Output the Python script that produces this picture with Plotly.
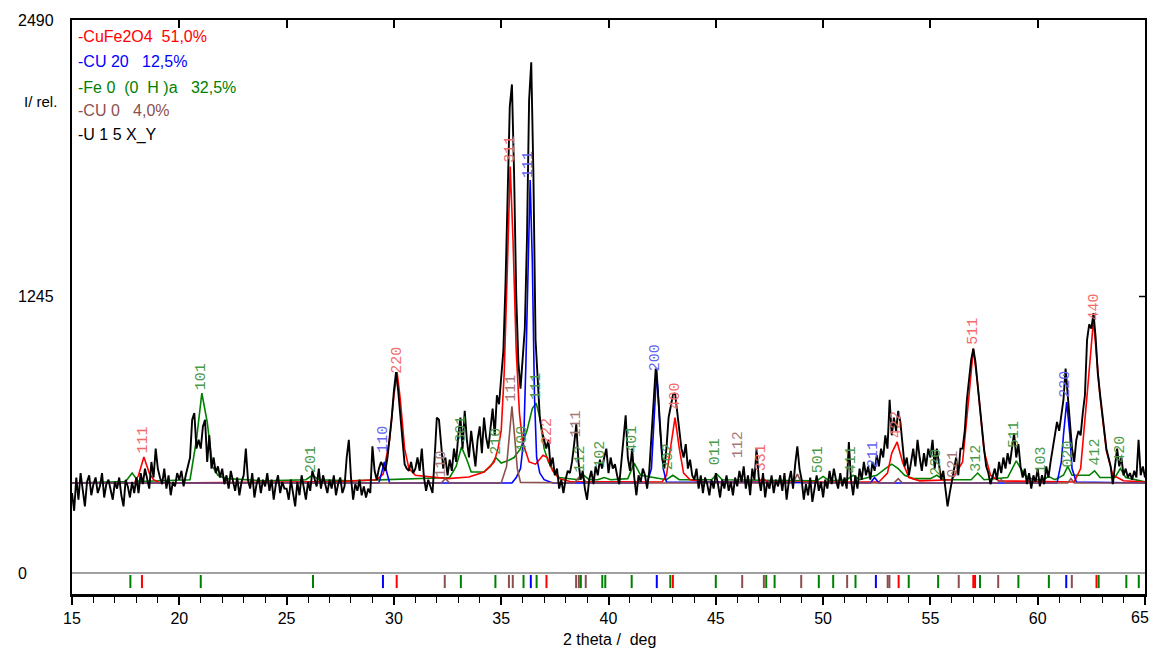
import plotly.graph_objects as go

# ---------------- data ----------------
obs_start = 15.0
obs_step = 0.1
# measured pattern U15X_Y, 0.1 deg steps from 15.0 to 65.0 (one row per degree)
obs_intensity = [
    360, 280, 430, 330, 450, 370, 300, 410, 440, 350,   # 15
    400, 430, 360, 390, 450, 340, 400, 420, 370, 330,   # 16
    410, 380, 430, 350, 300, 420, 390, 340, 410, 360,   # 17
    430, 360, 450, 400, 470, 420, 380, 500, 430, 560,   # 18
    470, 430, 400, 470, 380, 440, 350, 410, 390, 450,   # 19
    420, 460, 390, 440, 480, 520, 690, 720, 560, 600,   # 20
    560, 660, 690, 500, 620, 470, 520, 450, 480, 430,   # 21
    470, 400, 440, 380, 460, 420, 370, 430, 350, 410,   # 22
    440, 560, 420, 380, 450, 340, 400, 430, 360, 420,   # 23
    390, 450, 370, 420, 330, 400, 440, 360, 410, 380,   # 24
    380, 330, 420, 360, 300, 410, 350, 440, 390, 330,   # 25
    410, 370, 460, 430, 390, 470, 380, 440, 400, 360,   # 26
    420, 380, 440, 350, 400, 430, 360, 390, 520, 600,   # 27
    430, 330, 400, 370, 420, 350, 390, 340, 380, 360,   # 28
    570, 460, 420, 470, 500, 480, 460, 520, 600, 700,   # 29
    820, 905, 820, 700, 580, 490, 470, 460, 500, 450,   # 30
    470, 520, 460, 560, 430, 370, 420, 390, 360, 520,   # 31
    700, 690, 560, 470, 520, 440, 510, 460, 560, 500,   # 32
    620, 700, 560, 730, 600, 520, 640, 560, 480, 600,   # 33
    660, 540, 700, 610, 560, 650, 740, 620, 800, 760,   # 34
    880, 1000, 1300, 1750, 2100, 2200, 1800, 1250, 950, 830,   # 35
    960, 1100, 1500, 2130, 2300, 1800, 1050, 850, 700, 640,    # 36
    600, 560, 600, 480, 520, 440, 470, 380, 420, 360,   # 37
    420, 460, 450, 500, 580, 670, 500, 420, 460, 380,   # 38
    330, 420, 460, 400, 480, 440, 510, 470, 520, 560,   # 39
    450, 520, 470, 490, 440, 400, 500, 600, 710, 520,   # 40
    460, 560, 430, 350, 440, 410, 470, 440, 380, 460,   # 41
    600, 780, 920, 820, 640, 520, 470, 560, 700, 760,   # 42
    800, 810, 720, 640, 560, 520, 580, 470, 510, 440,   # 43
    420, 470, 380, 440, 360, 430, 400, 350, 420, 380,   # 44
    450, 400, 340, 420, 380, 440, 370, 410, 350, 430,   # 45
    390, 460, 410, 480, 380, 440, 350, 470, 420, 560,   # 46
    430, 370, 450, 340, 410, 380, 440, 360, 420, 390,   # 47
    440, 370, 450, 330, 410, 460, 380, 490, 570, 470,   # 48
    420, 330, 400, 350, 430, 320, 390, 440, 370, 410,   # 49
    340, 420, 380, 460, 400, 470, 420, 380, 450, 390,   # 50
    430, 380, 590, 420, 350, 440, 380, 470, 420, 500,   # 51
    440, 480, 420, 500, 460, 530, 480, 560, 520, 620,   # 52
    560, 780, 620, 700, 640, 730, 680, 560, 480, 520,   # 53
    440, 500, 560, 480, 600, 520, 460, 540, 480, 560,   # 54
    520, 600, 470, 560, 480, 420, 460, 380, 300, 360,   # 55
    420, 460, 520, 440, 560, 560, 640, 780, 880, 960,   # 56
    1010, 950, 850, 750, 640, 560, 480, 450, 400, 430,  # 57
    470, 420, 500, 450, 520, 470, 540, 490, 560, 630,   # 58
    520, 580, 480, 430, 470, 400, 450, 380, 440, 410,   # 59
    470, 390, 440, 400, 480, 430, 500, 560, 620, 680,   # 60
    640, 720, 780, 920, 800, 640, 560, 500, 600, 640,   # 61
    620, 720, 800, 1050, 1120, 1100, 1170, 1060, 900, 810,  # 62
    720, 620, 560, 520, 480, 400, 470, 560, 480, 520,   # 63
    440, 470, 430, 450, 420, 460, 430, 600, 440, 480,   # 64
    430,                                                # 65
]

# calculated phase profiles: (2theta, intensity) points
cufe2o4_calc = [(15, 405), (17.9, 405), (18.1, 440), (18.35, 522), (18.6, 450), (18.8, 420), (19.1, 405),
                (27.5, 412), (29.2, 420), (29.5, 445), (29.8, 600), (30.0, 800), (30.15, 905), (30.3, 780),
                (30.5, 560), (30.7, 470), (31.0, 440), (31.5, 435), (32.5, 425), (33.5, 432), (34.2, 455),
                (34.67, 500), (34.85, 560), (35.0, 640), (35.14, 900), (35.28, 1350), (35.42, 1830),
                (35.55, 1500), (35.7, 1000), (35.85, 720), (36.0, 590), (36.3, 500), (36.6, 490),
                (36.95, 530), (37.15, 520), (37.4, 460), (37.7, 425), (38.2, 412), (42.5, 410), (42.7, 440),
                (42.9, 560), (43.1, 700), (43.3, 560), (43.5, 450), (43.8, 420), (44.5, 410), (47.0, 410),
                (47.2, 425), (47.4, 410), (52.6, 410), (53.0, 450), (53.2, 540), (53.45, 590), (53.7, 500),
                (54.0, 430), (54.5, 415), (56.0, 420), (56.5, 500), (56.8, 800), (57.0, 1010), (57.2, 850),
                (57.5, 550), (57.8, 440), (58.2, 415), (61.7, 410), (62.0, 470), (62.3, 800), (62.6, 1140),
                (62.9, 800), (63.2, 550), (63.5, 440), (64.0, 415), (65, 410)]
cu2o_calc = [(15, 405), (29.3, 405), (29.45, 460), (29.55, 500), (29.65, 460), (29.8, 405), (35.5, 405),
             (35.7, 430), (35.9, 470), (36.05, 600), (36.15, 940), (36.25, 1400), (36.35, 1770),
             (36.45, 1400), (36.55, 800), (36.65, 520), (36.8, 450), (37.0, 420), (37.4, 405),
             (41.8, 405), (42.0, 470), (42.1, 650), (42.25, 914), (42.4, 650), (42.55, 470), (42.7, 410),
             (52.2, 405), (52.4, 430), (52.6, 405), (60.9, 405), (61.1, 500), (61.2, 620), (61.35, 770),
             (61.5, 620), (61.6, 470), (61.8, 410), (65, 405)]
feooh_calc = [(15, 405), (17.5, 412), (17.8, 450), (18.1, 412), (20.5, 420), (20.8, 600), (21.05, 810),
              (21.3, 680), (21.55, 480), (21.8, 440), (22.2, 425), (24.0, 415), (25.9, 420), (26.2, 440),
              (26.5, 420), (28.0, 415), (32.6, 430), (32.9, 480), (33.15, 567), (33.4, 510), (33.6, 455),
              (34.2, 455), (34.5, 480), (34.75, 520), (35.0, 495), (35.3, 505), (35.6, 520), (35.9, 560),
              (36.2, 640), (36.45, 740), (36.63, 765), (36.8, 700), (37.0, 560), (37.2, 500), (37.4, 465),
              (37.7, 430), (38.6, 420), (38.85, 440), (39.1, 420), (39.5, 420), (39.8, 430), (40.1, 420),
              (40.9, 425), (41.2, 495), (41.5, 440), (42.7, 420), (43.0, 440), (43.3, 420), (44.8, 420),
              (45.05, 445), (45.3, 420), (49.7, 415), (50.0, 435), (50.3, 415), (51.1, 420), (51.4, 440),
              (51.7, 420), (52.5, 440), (52.9, 470), (53.2, 490), (53.5, 470), (53.8, 440), (54.2, 425),
              (55.0, 425), (55.3, 440), (55.6, 420), (56.9, 420), (57.2, 450), (57.5, 420), (58.6, 430),
              (59.0, 505), (59.4, 440), (59.8, 420), (60.3, 420), (60.5, 435), (60.8, 420), (61.2, 440),
              (61.4, 480), (61.6, 440), (62.4, 440), (62.65, 460), (62.9, 430), (63.6, 430), (63.85, 470),
              (64.1, 430), (65, 410)]
cuo_calc = [(15, 405), (32.2, 405), (32.4, 425), (32.6, 405), (35.0, 405), (35.25, 480), (35.4, 640),
            (35.5, 750), (35.62, 620), (35.75, 470), (35.9, 408), (38.4, 405), (38.7, 440), (39.0, 405),
            (48.6, 405), (48.8, 445), (49.0, 405), (53.3, 405), (53.5, 425), (53.7, 405), (58.1, 405),
            (58.3, 420), (58.5, 405), (61.4, 405), (61.55, 425), (61.7, 405), (65, 405)]

# reflection positions (bottom stick pattern)
cufe2o4_refl = [18.26, 30.13, 37.11, 43.0, 53.52, 57.0, 57.08, 62.74]
cu2o_refl = [29.49, 36.38, 42.25, 52.46, 61.33]
feooh_refl = [17.72, 21.0, 26.23, 33.12, 34.73, 36.04, 36.65, 38.71, 39.71, 39.85, 41.08, 42.88, 45.0,
              47.35, 47.74, 49.8, 50.47, 51.51, 53.99, 55.36, 57.31, 59.1, 60.52, 62.84, 64.13, 64.71]
cuo_refl = [32.37, 35.36, 35.54, 38.49, 38.62, 38.94, 46.23, 47.24, 48.98, 51.12, 53.01, 53.09, 56.32,
            58.16, 61.59]

# hkl labels: (2theta, intensity at label foot, text)
cufe2o4_hkl = [(18.35, 531, "111"), (30.15, 887, "220"), (35.42, 1837, "311"), (37.15, 567, "222"),
               (43.1, 725, "400"), (47.14, 450, "331"), (53.42, 599, "422"), (57.0, 1018, "511"),
               (62.63, 1126, "440")]
cu2o_hkl = [(29.5, 531, "110"), (36.28, 1770, "111"), (42.2, 900, "200"), (52.35, 464, "211"),
            (61.28, 779, "220")]
feooh_hkl = [(21.05, 815, "101"), (26.16, 441, "201"), (33.14, 576, "301"), (34.77, 522, "210"),
             (35.98, 531, "400"), (36.63, 770, "111"), (38.72, 441, "112"), (39.62, 464, "102"),
             (41.1, 531, "401"), (42.81, 455, "202"), (45.0, 477, "011"), (49.8, 441, "501"),
             (51.33, 441, "411"), (55.28, 428, "220"), (57.14, 446, "312"), (58.92, 554, "511"),
             (60.2, 441, "103"), (61.42, 464, "020"), (62.67, 473, "412"), (63.84, 486, "420")]
cuo_hkl = [(32.2, 419, "110"), (35.47, 761, "111"), (38.49, 599, "111"), (46.07, 509, "112"),
           (56.07, 419, "021")]

legend_lines = ["-CuFe2O4  51,0%", "-CU 20   12,5%", "-Fe 0  (0  H )a   32,5%", "-CU 0   4,0%", "-U 1 5 X_Y"]
y_tick_labels = [2490, 1245, 0]
x_tick_values = [15, 20, 25, 30, 35, 40, 45, 50, 55, 60, 65]

# ---------------- style ----------------
RED, BLUE, GREEN, BROWN = "#ff0000", "#0000ff", "#008000", "#8c4f4f"
LBL = {"red": "#f26a6a", "blue": "#6464f0", "green": "#4a9a4a", "brown": "#a87878"}
Y_MIN, Y_MAX = -94.56, 2490
W, H = 1153, 650
ML, MR, MT, MB = 72, 6, 20, 56
PW, PH = W - ML - MR, H - MT - MB
FONT = "Liberation Sans, Arial"


def px_to_paper_x(px):
    return (px - ML) / PW


def px_to_paper_y(py):
    return 1 - (py - MT) / PH


fig = go.Figure()

for pts, col in [(feooh_calc, GREEN), (cufe2o4_calc, RED), (cu2o_calc, BLUE), (cuo_calc, BROWN)]:
    fig.add_trace(go.Scatter(x=[p[0] for p in pts], y=[p[1] for p in pts], mode="lines",
                             line=dict(color=col, width=1.6), hoverinfo="skip", showlegend=False))

obs_x = [round(obs_start + i * obs_step, 2) for i in range(len(obs_intensity))]
fig.add_trace(go.Scatter(x=obs_x, y=obs_intensity, mode="lines", line=dict(color="black", width=1.9),
                         showlegend=False))

# reflection sticks
for refl, col in [(feooh_refl, GREEN), (cuo_refl, BROWN), (cu2o_refl, BLUE), (cufe2o4_refl, RED)]:
    xs, ys = [], []
    for r in refl:
        xs += [r, r, None]
        ys += [-9, -68, None]
    fig.add_trace(go.Scatter(x=xs, y=ys, mode="lines", line=dict(color=col, width=2),
                             hoverinfo="skip", showlegend=False))

# dummy trace for the top axis
fig.add_trace(go.Scatter(x=[15, 65], y=[None, None], xaxis="x2", mode="lines", showlegend=False))

ann = []
for lst, key in [(cufe2o4_hkl, "red"), (cu2o_hkl, "blue"), (feooh_hkl, "green"), (cuo_hkl, "brown")]:
    for x, y, t in lst:
        ann.append(dict(x=x, y=y, xref="x", yref="y", text=t, textangle=-90, showarrow=False,
                        xanchor="center", yanchor="bottom",
                        font=dict(family="Liberation Mono", size=15, color=LBL[key])))

leg_cols = [RED, BLUE, GREEN, BROWN, "black"]
leg_py = [37, 62, 87, 110, 135]
for t, c, py in zip(legend_lines, leg_cols, leg_py):
    ann.append(dict(x=px_to_paper_x(76), y=px_to_paper_y(py), xref="paper", yref="paper", text=t,
                    showarrow=False, xanchor="left", yanchor="middle",
                    font=dict(family=FONT, size=16, color=c)))

for v in y_tick_labels:
    ann.append(dict(x=px_to_paper_x(16), y=v, xref="paper", yref="y", text=str(v), showarrow=False,
                    xanchor="left", yanchor="middle", font=dict(family=FONT, size=16, color="black")))

# last x tick label sits flush with the right edge
ann.append(dict(x=x_tick_values[-1], y=0, xref="x", yref="paper", text=str(x_tick_values[-1]),
                showarrow=False, xanchor="right", yanchor="top", xshift=6, yshift=-13,
                font=dict(family=FONT, size=16, color="black")))

ann.append(dict(x=px_to_paper_x(22), y=px_to_paper_y(102), xref="paper", yref="paper", text="I/ rel.",
                showarrow=False, xanchor="left", yanchor="middle",
                font=dict(family=FONT, size=15, color="black")))
ann.append(dict(x=px_to_paper_x(611), y=px_to_paper_y(639), xref="paper", yref="paper",
                text="2 theta /  deg", showarrow=False, xanchor="center", yanchor="middle",
                font=dict(family=FONT, size=16, color="black")))

shapes = [dict(type="line", xref="paper", yref="y", x0=1 - 6 / PW, x1=1, y0=1245, y1=1245,
               line=dict(color="black", width=1.5))]

fig.update_layout(
    width=W, height=H, margin=dict(l=ML, r=MR, t=MT, b=MB),
    paper_bgcolor="white", plot_bgcolor="white",
    annotations=ann, shapes=shapes,
    xaxis=dict(range=[15, 65], tickvals=x_tick_values,
               ticktext=[str(v) for v in x_tick_values[:-1]] + [""],
               ticks="outside", ticklen=8, tickwidth=1.5,
               tickcolor="black", showline=True, linecolor="black", linewidth=2.5, mirror=False,
               showgrid=False, zeroline=False,
               tickfont=dict(family=FONT, size=16, color="black"),
               minor=dict(dtick=1, tick0=15, ticks="outside", ticklen=6, tickwidth=1.3,
                          tickcolor="black", showgrid=False)),
    xaxis2=dict(range=[15, 65], overlaying="x", side="top", tickvals=x_tick_values, ticks="inside",
                ticklen=8, tickwidth=1.5, tickcolor="black", showticklabels=False, showline=True,
                linecolor="black", linewidth=2, showgrid=False, zeroline=False),
    yaxis=dict(range=[Y_MIN, Y_MAX], showline=True, mirror=True, linecolor="black", linewidth=2,
               ticks="", showticklabels=False, showgrid=False, zeroline=True,
               zerolinecolor="#a0a0a0", zerolinewidth=2),
)

fig.write_html("out.html")
